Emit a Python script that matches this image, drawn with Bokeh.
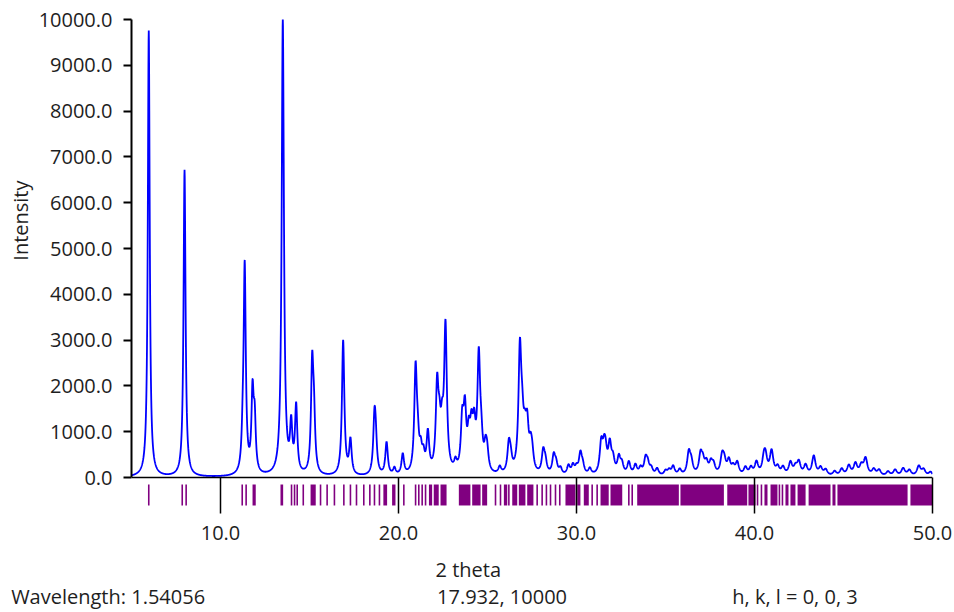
import numpy as np
from bokeh.plotting import figure
from bokeh.models import Range1d, FixedTicker, Span, Title, LinearAxis, NumeralTickFormatter
from bokeh.embed import file_html
from bokeh.resources import INLINE

# ---- data ----
# simulated powder pattern: peak positions (2 theta) and peak heights
peak_pos = [5.97, 7.98, 11.25, 11.36, 11.80, 11.92, 13.50, 13.97, 14.25, 15.15, 15.25,
            16.89, 17.30, 18.65, 18.72, 19.33, 19.77, 20.24, 20.96, 21.08, 21.25, 21.40,
            21.65, 22.17, 22.30, 22.45, 22.64, 23.20, 23.58, 23.73, 23.95, 24.10, 24.25,
            24.51, 24.65, 24.89, 24.98, 25.69, 26.20, 26.30, 26.82, 26.95, 27.10, 27.23,
            27.42, 27.51, 28.13, 28.25, 28.72, 28.85, 29.10, 29.55, 29.80, 30.00, 30.22,
            30.35, 30.75, 31.39, 31.55, 31.63, 31.87, 32.05, 32.38, 32.55, 32.94, 33.31,
            33.60, 33.88, 34.00, 34.20, 34.53, 35.00, 35.20, 35.43, 35.80, 36.31, 36.45,
            36.97, 37.10, 37.30, 37.55, 37.70, 38.18, 38.30, 38.56, 38.80, 39.03, 39.49,
            39.80, 40.11, 40.53, 40.62, 40.96, 41.30, 41.60, 42.02, 42.30, 42.49, 42.87,
            43.33, 43.71, 44.00, 44.50, 44.90, 45.30, 45.67, 46.00, 46.24, 46.70, 47.00,
            47.50, 47.90, 48.35, 48.70, 49.23, 49.50, 49.89]
peak_int = [9750, 6700, 550, 4500, 1700, 1100, 9950, 1000, 1450, 2300, 1100,
            2950, 750, 1150, 600, 720, 150, 450, 2250, 550, 420, 330,
            850, 1800, 750, 750, 3150, 200, 1050, 1250, 700, 800, 850,
            2450, 550, 450, 380, 150, 600, 280, 2600, 800, 600, 900,
            450, 350, 480, 250, 400, 220, 140, 200, 200, 140, 450,
            180, 140, 650, 420, 380, 620, 300, 360, 220, 280, 220,
            150, 330, 220, 140, 150, 100, 110, 200, 130, 480, 250,
            420, 250, 240, 240, 200, 380, 260, 300, 160, 270, 170,
            160, 280, 320, 320, 520, 170, 170, 280, 160, 280, 220,
            430, 170, 130, 100, 150, 220, 260, 200, 370, 140, 130,
            100, 140, 170, 130, 220, 140, 100]

# reflection markers: single ticks and dense groups (2 theta)
tick_pos = [5.97, 7.85, 8.07, 11.22, 11.44, 13.99, 14.16, 14.31, 14.65, 15.62, 15.99,
            16.40, 16.93, 17.30, 17.64, 18.05, 18.39, 18.65, 18.93, 20.30, 20.96, 21.14,
            21.33, 21.52, 25.45, 25.73, 26.20, 27.79, 28.07, 28.31, 28.54, 28.82, 29.06,
            30.88, 31.16, 32.94, 33.13, 40.17, 40.39, 41.40, 41.57]
block_lo = [11.80, 13.37, 15.06, 19.15, 19.64, 21.71, 21.98, 22.36, 23.39, 24.14, 24.70,
            25.92, 26.39, 26.76, 27.23, 29.38, 30.04, 30.41, 31.35, 31.91, 33.41, 35.84,
            38.47, 39.66, 40.56, 40.90, 41.74, 42.02, 42.42, 43.04, 44.38, 44.66, 48.76]
block_hi = [11.98, 13.52, 15.35, 19.36, 19.83, 21.89, 22.26, 22.70, 24.04, 24.61, 24.98,
            26.11, 26.67, 27.13, 27.58, 29.94, 30.22, 30.69, 31.81, 32.57, 35.75, 38.28,
            39.59, 40.06, 40.73, 41.29, 41.91, 42.30, 42.87, 44.27, 44.55, 48.60, 50.00]

x_ticks = [10, 20, 30, 40, 50]
y_ticks = [0, 1000, 2000, 3000, 4000, 5000, 6000, 7000, 8000, 9000, 10000]

# status line texts and their anchor positions along the 2-theta scale
status_text = ["Wavelength: 1.54056", "17.932, 10000", "h, k, l = 0, 0, 3"]
status_pos = [5.0, 25.815, 42.275]

# ---- profile from the peak list (Lorentzian, width growing with angle) ----
tth = np.arange(5.0, 50.0001, 0.01)
prof = np.zeros_like(tth)
for c, h in zip(peak_pos, peak_int):
    w = 0.11 + 0.003 * c
    prof += h / (1.0 + ((tth - c) / (w / 2.0)) ** 2)

FONT = "Open Sans"
TXT = "#1e1e1e"
FS = "20px"

p = figure(width=954, height=612, output_backend="svg", toolbar_location=None,
           x_range=Range1d(5, 50), y_range=Range1d(-786, 10000),
           min_border_left=131, min_border_right=22, min_border_top=19,
           min_border_bottom=40)
p.outline_line_color = None
p.xgrid.visible = False
p.ygrid.visible = False

p.line(tth, prof, line_color="#0000ff", line_width=1.8)

p.segment(x0=tick_pos, y0=[-153] * len(tick_pos), x1=tick_pos, y1=[-611] * len(tick_pos),
          line_color="#800080", line_width=1.6)
p.quad(left=block_lo, right=block_hi, bottom=-611, top=-153,
       fill_color="#800080", line_color=None)

p.add_layout(Span(location=0, dimension="width", line_color="black", line_width=1.5))

# y axis
ya = p.yaxis[0]
ya.ticker = FixedTicker(ticks=y_ticks, minor_ticks=[])
ya.formatter = NumeralTickFormatter(format="0.0")
ya.bounds = (0, 10000)
ya.axis_line_width = 2
ya.axis_line_color = "black"
ya.major_tick_line_width = 2
ya.major_tick_out = 8
ya.major_tick_in = 0
ya.major_label_standoff = 11
ya.major_label_text_font = FONT
ya.major_label_text_font_size = FS
ya.major_label_text_color = TXT

# x axis
xa = p.xaxis[0]
xa.ticker = FixedTicker(ticks=x_ticks, minor_ticks=[])
xa.formatter = NumeralTickFormatter(format="0.0")
xa.axis_line_color = None
xa.major_tick_in = 36
xa.major_tick_out = 0
xa.major_tick_line_width = 1.5
xa.major_label_standoff = 12
xa.major_label_text_font = FONT
xa.major_label_text_font_size = FS
xa.major_label_text_color = TXT

p.add_layout(Title(text="Intensity", align="right", offset=161, standoff=4,
                   text_font=FONT, text_font_size=FS, text_font_style="normal",
                   text_color=TXT), "left")
p.add_layout(Title(text="2 theta", align="left", offset=304, standoff=23,
                   vertical_align="bottom",
                   text_font=FONT, text_font_size=FS, text_font_style="normal",
                   text_color=TXT), "below")

# status line drawn as a label-only axis (first text right-padded so it starts near the page edge)
labels = [status_text[0] + "\u00a0" * 9] + status_text[1:]
sa = LinearAxis(ticker=FixedTicker(ticks=status_pos, minor_ticks=[]),
                major_label_overrides={k: t for k, t in zip(status_pos, labels)},
                axis_line_color=None, major_tick_line_color=None,
                major_tick_in=0, major_tick_out=0, major_label_standoff=-12,
                minor_tick_line_color=None,
                major_label_text_font=FONT, major_label_text_font_size=FS,
                major_label_text_color=TXT)
p.add_layout(sa, "below")

open("out.html", "w").write(file_html(p, INLINE))
